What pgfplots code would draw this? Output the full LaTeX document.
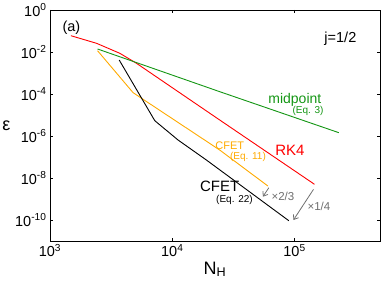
\documentclass[border=0pt]{standalone}
\usepackage{pgfplots}
\pgfplotsset{compat=1.18}
\usetikzlibrary{arrows.meta}
\usepackage{fontspec}
\setmainfont{Liberation Sans}
\definecolor{cred}{RGB}{255,0,0}
\definecolor{cgreen}{RGB}{20,150,20}
\definecolor{corange}{RGB}{255,170,0}
\definecolor{cgray}{RGB}{110,110,110}
\begin{document}
\begin{tikzpicture}
\begin{axis}[
  xmode=log, ymode=log,
  scale only axis, width=330pt, height=231pt,
  xmin=1e3, xmax=5.0e5, ymin=1e-11, ymax=1,
  xtick={1e3,1e4,1e5},
  xticklabels={10\textsuperscript{3},10\textsuperscript{4},10\textsuperscript{5}},
  ytick={1e0,1e-2,1e-4,1e-6,1e-8,1e-10},
  yticklabels={10\textsuperscript{0},10\textsuperscript{-2},10\textsuperscript{-4},10\textsuperscript{-6},10\textsuperscript{-8},10\textsuperscript{-10}},
  xminorticks=false, yminorticks=false,
  major tick length=3.5pt,
  tick style={black, line width=0.6pt},
  axis line style={line width=0.8pt},
  ticklabel style={font=\fontsize{14.5}{16}\selectfont},
  xlabel={N\textsubscript{H}},
  xlabel style={font=\fontsize{18}{20}\selectfont, yshift=2pt},
  ylabel={ε},
  ylabel style={font=\fontsize{18}{20}\selectfont, rotate=-90, xshift=2pt},
  clip=false,
]
\addplot[cred, line width=0.9pt] coordinates {
 (1483,5.97e-2) (2404,2.59e-2) (3724,8.67e-3) (5105,2.88e-3) (24434,5.78e-6) (145555,5.01e-9)};
\addplot[cgreen, line width=0.9pt] coordinates {
 (2449,1.39e-2) (24434,1.29e-4) (230144,1.44e-6)};
\addplot[corange, line width=0.9pt] coordinates {
 (2449,1.15e-2) (4786,1.15e-4) (24434,2.15e-7) (60534,4.16e-9)};
\addplot[black, line width=0.9pt] coordinates {
 (3681,4.16e-3) (7194,5.36e-6) (11143,6.46e-7) (19011,7.19e-8) (89743,9.27e-11)};
\draw[cgray, line width=0.8pt, -{Straight Barb[length=4pt,width=6pt]}] (axis cs:61660,3.45e-9) -- (axis cs:55081,1.29e-9);
\draw[cgray, line width=0.8pt, -{Straight Barb[length=4pt,width=6pt]}] (axis cs:142889,2.88e-9) -- (axis cs:97949,1.0e-10);
\begin{scope}[every node/.style={inner sep=0.5pt}]
\node[font=\fontsize{14.5}{16}\selectfont] at (rel axis cs:0.065,0.922) {(a)};
\node[font=\fontsize{14.5}{16}\selectfont] at (rel axis cs:0.88,0.874) {j=1/2};
\node[font=\fontsize{14}{16}\selectfont, text=cgreen] at (rel axis cs:0.742,0.612) {midpoint};
\node[font=\fontsize{10}{12}\selectfont, text=cgreen] at (rel axis cs:0.782,0.562) {(Eq. 3)};
\node[font=\fontsize{15}{17}\selectfont, text=cred] at (rel axis cs:0.727,0.394) {RK4};
\node[font=\fontsize{11}{13}\selectfont, text=corange] at (rel axis cs:0.545,0.412) {CFET};
\node[font=\fontsize{10}{12}\selectfont, text=corange] at (rel axis cs:0.6,0.364) {(Eq. 11)};
\node[font=\fontsize{15}{17}\selectfont] at (rel axis cs:0.514,0.236) {CFET};
\node[font=\fontsize{10}{12}\selectfont] at (rel axis cs:0.559,0.178) {(Eq. 22)};
\node[font=\fontsize{11.5}{13}\selectfont, text=cgray] at (rel axis cs:0.706,0.192) {×2/3};
\node[font=\fontsize{11.5}{13}\selectfont, text=cgray] at (rel axis cs:0.815,0.148) {×1/4};
\end{scope}
\end{axis}
\pgfresetboundingbox
\path[use as bounding box] (-50pt,-47pt) rectangle (332pt,241pt);
\end{tikzpicture}
\end{document}
